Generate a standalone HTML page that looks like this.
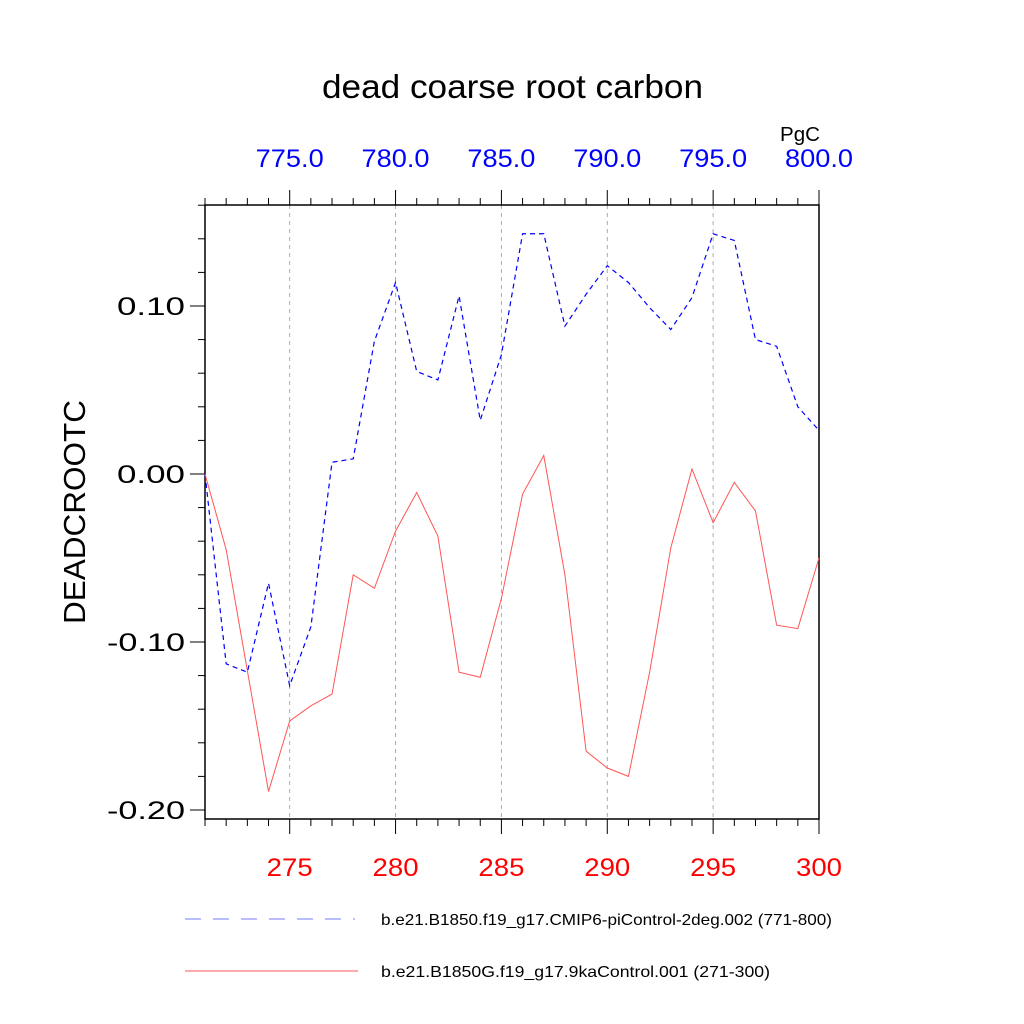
<!DOCTYPE html>
<html><head><meta charset="utf-8"><style>body{margin:0;background:#fff}svg{display:block}</style></head>
<body>
<svg id="chart" width="1024" height="1024" xmlns="http://www.w3.org/2000/svg" font-family="Liberation Sans, sans-serif">
<rect width="1024" height="1024" fill="#fff"/>
<g id="g"></g>
</svg>
<script>
const years=[271,272,273,274,275,276,277,278,279,280,281,282,283,284,285,286,287,288,289,290,291,292,293,294,295,296,297,298,299,300];
const blueVals=[0.0,-0.113,-0.118,-0.065,-0.126,-0.091,0.007,0.009,0.079,0.114,0.061,0.056,0.106,0.032,0.071,0.143,0.143,0.088,0.107,0.124,0.114,0.099,0.086,0.105,0.143,0.139,0.080,0.076,0.040,0.026];
const redVals=[0.0,-0.045,-0.117,-0.189,-0.147,-0.138,-0.131,-0.060,-0.068,-0.034,-0.011,-0.037,-0.118,-0.121,-0.074,-0.012,0.011,-0.060,-0.165,-0.175,-0.180,-0.118,-0.044,0.003,-0.029,-0.005,-0.022,-0.090,-0.092,-0.050];
const bottomTicks=[275,280,285,290,295,300];
const topTicks=['775.0','780.0','785.0','790.0','795.0','800.0'];
const yTicks=[0.10,0.00,-0.10,-0.20];
const L=205,R=819,T=205,B=819;
const x=v=>L+(v-271)/(300-271)*(R-L);
const y=v=>474-v*1680;
const g=document.getElementById('g');
const NS='http://www.w3.org/2000/svg';
function mk(tag,attrs,txt){const e=document.createElementNS(NS,tag);for(const k in attrs)e.setAttribute(k,attrs[k]);if(txt!==undefined)e.textContent=txt;g.appendChild(e);return e;}
bottomTicks.forEach(t=>{if(t<300){const e=mk('line',{x1:x(t),x2:x(t),y1:T,y2:B,stroke:'#aaa','stroke-dasharray':'4 4','stroke-width':1});

}});
for(let t=271;t<=300;t++){const maj=bottomTicks.includes(t);const len=maj?15:7;
mk('line',{x1:x(t),x2:x(t),y1:T,y2:T-len,stroke:'#000','stroke-width':1});
mk('line',{x1:x(t),x2:x(t),y1:B,y2:B+len,stroke:'#000','stroke-width':1});}
for(let v=-0.20;v<=0.161;v+=0.02){const vv=Math.round(v*100)/100;const maj=Math.abs(vv*10-Math.round(vv*10))<1e-6;
mk('line',{x1:L,x2:L-(maj?15:7),y1:y(vv),y2:y(vv),stroke:'#000','stroke-width':1});}
const f=mk('rect',{x:L,y:T,width:R-L,height:B-T,fill:'none',stroke:'#000','stroke-width':1.5});


bottomTicks.forEach((t,i)=>{const e=mk('text',{x:x(t),y:876,'font-size':25,fill:'#f00','text-anchor':'middle',textLength:46,lengthAdjust:'spacingAndGlyphs'},t);


const e2=mk('text',{x:x(t),y:167,'font-size':25,fill:'#00f','text-anchor':'middle',textLength:68,lengthAdjust:'spacingAndGlyphs'},topTicks[i]);

});
yTicks.forEach(v=>{const s=v.toFixed(2);const w=s.startsWith('-')?78:68;
const e=mk('text',{x:185-w,y:y(v)+9,'font-size':25,textLength:w,lengthAdjust:'spacingAndGlyphs'},s);

});
const tt=mk('text',{x:322,y:98,'font-size':33,textLength:381,lengthAdjust:'spacingAndGlyphs'},'dead coarse root carbon');


const un=mk('text',{x:780,y:141,'font-size':20,textLength:40,lengthAdjust:'spacingAndGlyphs'},'PgC');


const yt=mk('text',{x:0,y:0,'font-size':31,'text-anchor':'middle',textLength:224,lengthAdjust:'spacingAndGlyphs',transform:'translate(85,512) rotate(-90)'},'DEADCROOTC');


const pb=mk('polyline',{points:years.map((t,i)=>x(t)+','+y(blueVals[i])).join(' '),fill:'none',stroke:'#00f','stroke-width':1.2,'stroke-dasharray':'5 4'});


const pr=mk('polyline',{points:years.map((t,i)=>x(t)+','+y(redVals[i])).join(' '),fill:'none',stroke:'#f55','stroke-width':1});


const l1=mk('line',{x1:185,x2:355,y1:919,y2:919,stroke:'#77f','stroke-width':1,'stroke-dasharray':'16 12'});


const lt1=mk('text',{x:381,y:925,'font-size':16,textLength:451,lengthAdjust:'spacingAndGlyphs'},'b.e21.B1850.f19_g17.CMIP6-piControl-2deg.002 (771-800)');


const l2=mk('line',{x1:185,x2:358,y1:971,y2:971,stroke:'#f55','stroke-width':1});


const lt2=mk('text',{x:381,y:977,'font-size':16,textLength:389,lengthAdjust:'spacingAndGlyphs'},'b.e21.B1850G.f19_g17.9kaControl.001 (271-300)');


</script>
</body></html>
